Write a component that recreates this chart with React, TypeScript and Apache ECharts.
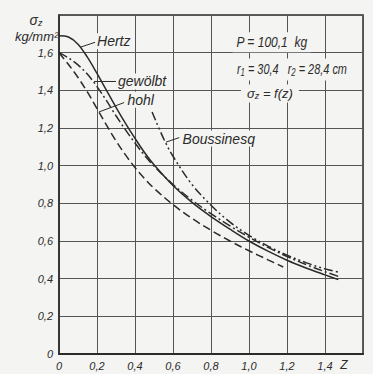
import React, { useEffect, useRef } from "react";
import * as echarts from "echarts";

// ---- data (z, sigma_z in kg/mm^2) ----
const hertzZ = [0, 0.05, 0.1, 0.15, 0.2, 0.25, 0.3, 0.35, 0.4, 0.45, 0.5, 0.6, 0.7, 0.8, 0.9, 1.0, 1.1, 1.2, 1.3, 1.4, 1.47];
const hertzS = [1.69, 1.683, 1.645, 1.575, 1.49, 1.4, 1.31, 1.225, 1.145, 1.07, 1.005, 0.895, 0.805, 0.73, 0.663, 0.6, 0.546, 0.498, 0.457, 0.42, 0.395];

const gewZ = [0, 0.05, 0.1, 0.15, 0.2, 0.25, 0.3, 0.35, 0.4, 0.45, 0.5, 0.6, 0.7, 0.8, 0.9, 1.0, 1.1, 1.2, 1.3, 1.4, 1.47];
const gewS = [1.6, 1.572, 1.535, 1.485, 1.42, 1.345, 1.265, 1.19, 1.12, 1.055, 0.998, 0.9, 0.817, 0.745, 0.68, 0.62, 0.566, 0.518, 0.475, 0.437, 0.412];

const hohlZ = [0, 0.05, 0.1, 0.15, 0.2, 0.25, 0.3, 0.35, 0.4, 0.45, 0.5, 0.6, 0.7, 0.8, 0.9, 1.0, 1.1, 1.18];
const hohlS = [1.6, 1.537, 1.468, 1.39, 1.303, 1.215, 1.132, 1.057, 0.99, 0.932, 0.88, 0.793, 0.72, 0.657, 0.6, 0.548, 0.5, 0.462];

const boussZ = [0.49, 0.55, 0.6, 0.7, 0.8, 0.9, 1.0, 1.1, 1.2, 1.3, 1.4, 1.47];
const boussS = [1.285, 1.145, 1.05, 0.9, 0.79, 0.7, 0.63, 0.573, 0.525, 0.485, 0.452, 0.435];

// ---- annotations ----
const curveLabels = ["Hertz", "gewölbt", "hohl", "Boussinesq"];
const curveLabelAt = [[0.195, 1.66], [0.305, 1.447], [0.355, 1.35], [0.645, 1.144]];
const pointerFrom = [[0.115, 1.63], [0.185, 1.447], [0.21, 1.285], [0.563, 1.125]];
const pointerTo = [[0.19, 1.655], [0.3, 1.447], [0.343, 1.335], [0.633, 1.149]];

const infoAt = [[1.12, 1.655], [1.226, 1.51], [1.11, 1.383]];
const zLabelAt = [1.5, 0];

const BG = "#f4f4f2";
const INK = "#2b2b2b";
const GRID = "#555";
const FONT = "'Liberation Sans', 'DejaVu Sans', sans-serif";

const fmt = (v: number) => (v === 0 ? "0" : v.toFixed(1).replace(".", ","));
const zip = (a: number[], b: number[]) => a.map((x, i) => [x, b[i]]);

export default function App() {
  const ref = useRef<HTMLDivElement>(null);
  useEffect(() => {
    const chart = echarts.init(ref.current!, null, { renderer: "svg" });
    const lineSeries = (name: string, data: number[][], type: any) => ({
      name,
      type: "line",
      data,
      showSymbol: false,
      smooth: 0.35,
      lineStyle: { color: INK, width: 1.5, type },
      z: 5,
    });
    chart.setOption({
      animation: false,
      backgroundColor: BG,
      grid: { left: 59, top: 15, right: 10, bottom: 20, show: true, borderColor: INK, borderWidth: 1.5, backgroundColor: "transparent" },
      xAxis: {
        type: "value",
        min: 0,
        max: 1.6,
        interval: 0.2,
        axisLine: { show: true, lineStyle: { color: INK, width: 2 } },
        axisTick: { show: false },
        splitLine: { show: true, lineStyle: { color: GRID, width: 1 } },
        axisLabel: {
          margin: 6,
          color: INK,
          fontSize: 11,
          fontStyle: "italic",
          fontFamily: FONT,
          formatter: (v: number) => (v > 1.55 ? "" : fmt(v)),
        },
      },
      yAxis: {
        type: "value",
        min: 0,
        max: 1.8,
        interval: 0.2,
        axisLine: { show: true, lineStyle: { color: INK, width: 1.5 } },
        axisTick: { show: false },
        splitLine: { show: true, lineStyle: { color: GRID, width: 1 } },
        axisLabel: {
          margin: 6,
          color: INK,
          fontSize: 11,
          fontStyle: "italic",
          fontFamily: FONT,
          formatter: (v: number) => (v > 1.75 ? "" : fmt(v)),
        },
      },
      series: [
        lineSeries("Hertz", zip(hertzZ, hertzS), "solid"),
        lineSeries("gewölbt", zip(gewZ, gewS), [9, 3, 2, 3]),
        lineSeries("hohl", zip(hohlZ, hohlS), [8, 4]),
        lineSeries("Boussinesq", zip(boussZ, boussS), [9, 3, 2, 3, 2, 3]),
      ],
    });

    const px = (p: number[]) => chart.convertToPixel({ gridIndex: 0 }, p) as number[];
    const txtStyle = (text: string, size: number, align: string, extra: any = {}) => ({
      text,
      fill: INK,
      fontSize: size,
      fontStyle: "italic",
      fontFamily: FONT,
      align,
      verticalAlign: "middle",
      backgroundColor: BG,
      padding: [1, 2],
      ...extra,
    });
    const sub = { s: { fontSize: 9, fontStyle: "italic", fontFamily: FONT, fill: INK, padding: [5, 0, 0, 0] } };
    const sub2 = { s: { fontSize: 10, fontStyle: "italic", fontFamily: FONT, fill: INK, padding: [6, 0, 0, 0] } };

    const graphics: any[] = [];
    curveLabels.forEach((t, i) => {
      const a = px(pointerFrom[i]);
      const b = px(pointerTo[i]);
      graphics.push({ type: "line", z: 20, shape: { x1: a[0], y1: a[1], x2: b[0], y2: b[1] }, style: { stroke: INK, lineWidth: 1 } });
      const c = px(curveLabelAt[i]);
      graphics.push({ type: "text", z: 21, x: c[0], y: c[1], style: txtStyle(t, 14, "left", { padding: [1, 1] }) });
    });
    const i0 = px(infoAt[0]);
    graphics.push({ type: "text", z: 21, x: i0[0], y: i0[1], scaleX: 0.86, style: txtStyle("P = 100,1  kg", 14, "center", { padding: [3, 4] }) });
    const i1 = px(infoAt[1]);
    graphics.push({
      type: "text", z: 21, x: i1[0], y: i1[1], scaleX: 0.78,
      style: txtStyle("r{s|1} = 30,4   r{s|2} = 28,4 cm", 14, "center", { rich: sub2, padding: [3, 4] }),
    });
    const i2 = px(infoAt[2]);
    graphics.push({
      type: "text", z: 21, x: i2[0], y: i2[1],
      style: txtStyle("σ{s|z} = f(z)", 13, "center", { rich: sub, padding: [2, 6] }),
    });
    const zl = px(zLabelAt);
    graphics.push({ type: "text", z: 21, x: zl[0], y: zl[1] + 11, style: txtStyle("Z", 12, "center", { backgroundColor: "transparent" }) });
    // y-axis title
    const top = px([0, 1.8]);
    graphics.push({ type: "text", z: 21, x: top[0] - 23, y: top[1] + 5, style: txtStyle("σ{s|z}", 14, "center", { rich: sub, backgroundColor: "transparent", padding: 0 }) });
    graphics.push({ type: "text", z: 21, x: top[0] - 44, y: top[1] + 21, style: txtStyle("kg/mm²", 13, "left", { backgroundColor: "transparent", padding: 0 }) });

    chart.setOption({ graphic: graphics });
    return () => chart.dispose();
  }, []);
  return <div ref={ref} style={{ position: "absolute", left: 0, top: 0, width: 373, height: 374, background: BG }} />;
}
